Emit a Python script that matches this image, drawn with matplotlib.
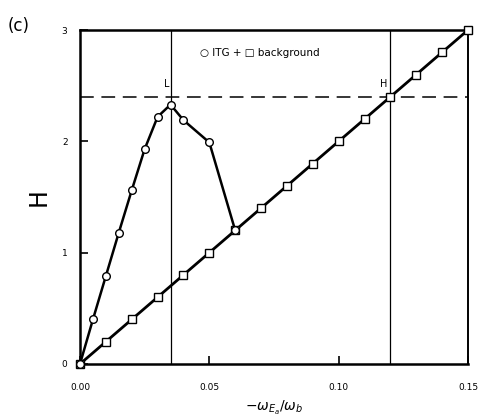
import numpy as np
import matplotlib.pyplot as plt

# ITG + background (open circles)
x_itg = [0.0, 0.005, 0.01, 0.015, 0.02, 0.025, 0.03, 0.035, 0.04, 0.05, 0.06]
h_itg = [0.0, 0.40, 0.79, 1.18, 1.56, 1.93, 2.22, 2.33, 2.19, 1.99, 1.20]

# background only (open squares)
x_bg = [0.0, 0.01, 0.02, 0.03, 0.04, 0.05, 0.06, 0.07, 0.08,
        0.09, 0.10, 0.11, 0.12, 0.13, 0.14, 0.15]
h_bg = [0.0, 0.2, 0.4, 0.6, 0.8, 1.0, 1.2, 1.4, 1.6,
        1.8, 2.0, 2.2, 2.4, 2.6, 2.8, 3.0]

x_low, x_high = 0.035, 0.12
h_level = 2.4

fig = plt.figure(figsize=(4.81, 4.19), dpi=100)
ax = fig.add_axes([0.1663, 0.1313, 0.8067, 0.7971])

ax.axvline(x_low, color="k", lw=0.9)
ax.axvline(x_high, color="k", lw=0.9)
ax.axhline(h_level, color="k", lw=1.1, ls=(0, (9, 5)))

ax.plot(x_bg, h_bg, "-", color="k", lw=2.0, marker="s", ms=5.5,
        mfc="white", mec="k", mew=1.0, zorder=3, clip_on=False)
ax.plot(x_itg, h_itg, "-", color="k", lw=1.8, marker="o", ms=5.5,
        mfc="white", mec="k", mew=1.0, zorder=4, clip_on=False)

ax.set_xlim(0, 0.15)
ax.set_ylim(0, 3)
ax.set_xticks([0.0, 0.05, 0.10, 0.15])
ax.set_xticklabels(["0.00", "0.05", "0.10", "0.15"])
ax.set_yticks([0, 1, 2, 3])
ax.tick_params(direction="in", length=6, width=1.2, labelsize=6.5)
ax.tick_params(axis="x", pad=14)
ax.tick_params(axis="y", pad=9)
for side in ["left", "bottom", "top"]:
    ax.spines[side].set_linewidth(1.8)
ax.spines["right"].set_linewidth(1.4)

ax.text(0.0335, 2.47, "L", fontsize=7, ha="center", va="bottom")
ax.text(0.1175, 2.47, "H", fontsize=7, ha="center", va="bottom")
ax.text(0.0465, 2.79, "○ ITG + □ background", fontsize=7.5, ha="left", va="center")

ax.set_ylabel("H", fontsize=17, rotation=90, labelpad=8)
ax.set_xlabel(r"$-\omega_{E_a}/\omega_b$", fontsize=10, labelpad=5)
fig.text(0.015, 0.925, "(c)", fontsize=12)

fig.savefig("out.png", dpi=100)
